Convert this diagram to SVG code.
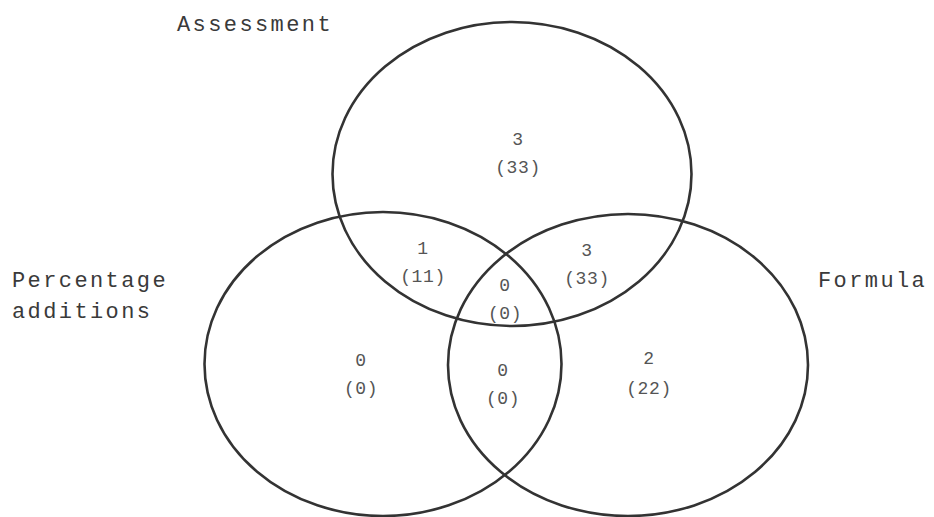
<svg xmlns="http://www.w3.org/2000/svg" width="934" height="517" viewBox="0 0 934 517">
<style>
.set{fill:none;stroke:#333;stroke-width:2.6}
.lbl{font-family:"Liberation Mono","Courier New",monospace;font-size:22px;letter-spacing:2.4px;fill:#3a3a3a}
.num{font-family:"Liberation Mono","Courier New",monospace;font-size:18px;letter-spacing:0.6px;fill:#555;text-anchor:middle}
</style>
<rect width="934" height="517" fill="#fff"/>
<g id="assessment">
<ellipse class="set" cx="512" cy="174" rx="179.5" ry="152"/>
<text class="lbl" x="177" y="31">Assessment</text>
</g>
<g id="percentage-additions">
<ellipse class="set" cx="383" cy="364" rx="178.5" ry="152"/>
<text class="lbl" x="12" y="287">Percentage</text>
<text class="lbl" x="12" y="318">additions</text>
</g>
<g id="formula">
<ellipse class="set" cx="628" cy="365" rx="180" ry="151"/>
<text class="lbl" x="818" y="287">Formula</text>
</g>
<g id="counts">
<text class="num" x="518" y="145">3</text>
<text class="num" x="518" y="173">(33)</text>
<text class="num" x="423" y="254">1</text>
<text class="num" x="423" y="282">(11)</text>
<text class="num" x="587" y="256">3</text>
<text class="num" x="587" y="284">(33)</text>
<text class="num" x="505" y="291">0</text>
<text class="num" x="505" y="319">(0)</text>
<text class="num" x="361" y="366">0</text>
<text class="num" x="361" y="394">(0)</text>
<text class="num" x="503" y="376">0</text>
<text class="num" x="503" y="404">(0)</text>
<text class="num" x="649" y="364">2</text>
<text class="num" x="649" y="394">(22)</text>
</g>
<g id="connectors"></g>
</svg>
